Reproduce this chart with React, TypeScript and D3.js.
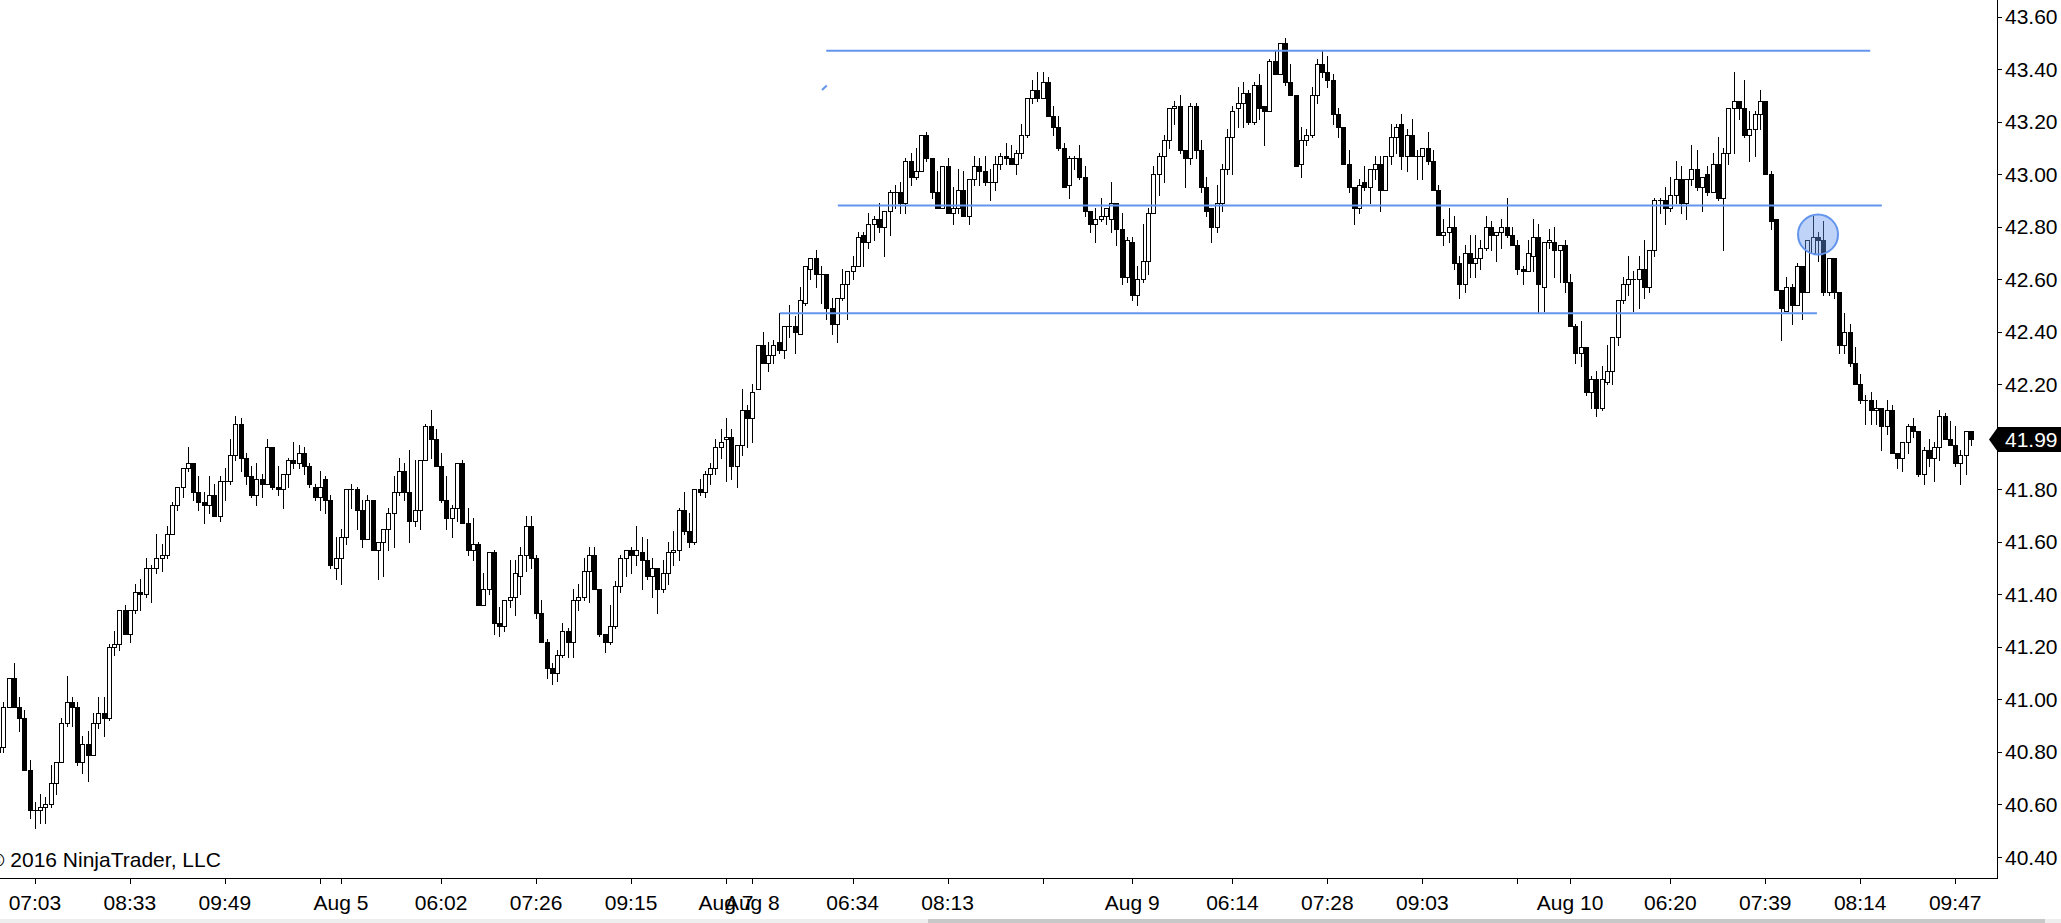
import React, { useEffect } from 'react';
import * as d3 from 'd3';

// ─── bar data (one entry per candle, oldest first) ─────────────────────────────
const opens = [
  40.80, 40.82, 40.97, 41.08, 40.97, 40.93, 40.73, 40.58, 40.58, 40.59,
  40.60, 40.68, 40.76, 40.91, 40.99, 40.97, 40.76, 40.83, 40.79, 40.91,
  40.95, 40.93, 41.20, 41.21, 41.34, 41.25, 41.34, 41.41, 41.40, 41.50,
  41.50, 41.54, 41.55, 41.63, 41.74, 41.81, 41.88, 41.90, 41.79, 41.75,
  41.74, 41.78, 41.70, 41.83, 41.83, 41.93, 42.05, 41.92, 41.85, 41.78,
  41.84, 41.82, 41.96, 41.81, 41.80, 41.86, 41.91, 41.90, 41.94, 41.89,
  41.81, 41.77, 41.84, 41.76, 41.50, 41.54, 41.62, 41.80, 41.80, 41.72,
  41.61, 41.76, 41.57, 41.60, 41.65, 41.71, 41.79, 41.87, 41.79, 41.68,
  41.72, 41.91, 42.04, 41.99, 41.89, 41.76, 41.69, 41.73, 41.90, 41.67,
  41.57, 41.59, 41.36, 41.42, 41.56, 41.29, 41.28, 41.38, 41.39, 41.47,
  41.55, 41.66, 41.54, 41.33, 41.22, 41.12, 41.10, 41.17, 41.26, 41.22,
  41.38, 41.39, 41.49, 41.55, 41.42, 41.25, 41.22, 41.28, 41.43, 41.54,
  41.57, 41.55, 41.56, 41.53, 41.47, 41.50, 41.42, 41.48, 41.56, 41.57,
  41.72, 41.64, 41.60, 41.80, 41.79, 41.86, 41.88, 41.96, 41.99, 42.00,
  41.89, 41.97, 42.10, 42.07, 42.18, 42.35, 42.28, 42.31, 42.36, 42.33,
  42.42, 42.42, 42.39, 42.51, 42.64, 42.68, 42.62, 42.62, 42.49, 42.43,
  42.53, 42.58, 42.63, 42.65, 42.77, 42.74, 42.81, 42.83, 42.80, 42.86,
  42.93, 42.93, 42.89, 43.05, 42.99, 43.01, 43.15, 43.06, 42.93, 42.87,
  43.03, 42.85, 42.87, 42.94, 42.84, 42.98, 43.03, 43.01, 42.97, 42.97,
  43.04, 43.07, 43.06, 43.04, 43.08, 43.15, 43.29, 43.32, 43.29, 43.35,
  43.22, 43.18, 43.10, 42.96, 43.06, 43.06, 42.99, 42.86, 42.81, 42.83,
  42.84, 42.83, 42.89, 42.79, 42.61, 42.74, 42.54, 42.60, 42.67, 42.85,
  43.00, 43.07, 43.13, 43.25, 43.26, 43.09, 43.06, 43.26, 43.09, 42.95,
  42.87, 42.80, 42.89, 43.02, 43.14, 43.25, 43.27, 43.31, 43.20, 43.34,
  43.26, 43.24, 43.43, 43.38, 43.50, 43.35, 43.30, 43.04, 43.13, 43.15,
  43.30, 43.42, 43.39, 43.36, 43.23, 43.18, 43.04, 42.95, 42.87, 42.97,
  42.95, 43.02, 43.04, 42.94, 43.07, 43.14, 43.19, 43.07, 43.15, 43.07,
  43.07, 43.10, 43.05, 42.94, 42.77, 42.78, 42.80, 42.66, 42.58, 42.70,
  42.66, 42.68, 42.72, 42.80, 42.77, 42.78, 42.80, 42.77, 42.73, 42.64,
  42.63, 42.69, 42.76, 42.57, 42.74, 42.74, 42.71, 42.73, 42.59, 42.42,
  42.32, 42.34, 42.17, 42.22, 42.11, 42.21, 42.25, 42.38, 42.52, 42.58,
  42.60, 42.60, 42.64, 42.57, 42.71, 42.90, 42.90, 42.87, 42.92, 42.98,
  42.89, 42.98, 43.02, 42.95, 43.00, 42.93, 43.04, 42.91, 43.08, 43.25,
  43.28, 43.25, 43.15, 43.17, 43.23, 43.28, 43.00, 42.83, 42.56, 42.48,
  42.57, 42.50, 42.65, 42.55, 42.70, 42.76, 42.75, 42.55, 42.68, 42.55,
  42.35, 42.40, 42.28, 42.20, 42.14, 42.14, 42.10, 42.11, 42.04, 42.10,
  41.94, 41.92, 41.98, 42.04, 42.02, 41.86, 41.95, 41.92, 41.96, 42.08,
  41.99, 41.97, 41.90, 41.93, 42.02,
];

const highs = [
  40.84, 40.99, 41.08, 41.14, 41.01, 40.96, 40.77, 40.61, 40.64, 40.63,
  40.75, 40.76, 40.93, 41.09, 41.01, 40.99, 40.86, 40.88, 40.95, 41.01,
  41.01, 41.21, 41.26, 41.34, 41.36, 41.34, 41.44, 41.46, 41.54, 41.51,
  41.63, 41.59, 41.66, 41.75, 41.81, 41.88, 41.96, 41.90, 41.85, 41.79,
  41.85, 41.82, 41.85, 41.88, 41.99, 42.08, 42.07, 41.94, 41.89, 41.90,
  41.86, 41.99, 41.96, 41.89, 41.86, 41.92, 41.98, 41.97, 41.96, 41.90,
  41.82, 41.87, 41.85, 41.78, 41.62, 41.65, 41.80, 41.82, 41.81, 41.76,
  41.78, 41.76, 41.60, 41.65, 41.73, 41.85, 41.92, 41.90, 41.95, 41.91,
  41.91, 42.05, 42.10, 42.03, 41.94, 41.85, 41.74, 41.90, 41.91, 41.73,
  41.69, 41.60, 41.48, 41.56, 41.57, 41.35, 41.38, 41.53, 41.53, 41.58,
  41.70, 41.70, 41.55, 41.38, 41.23, 41.14, 41.19, 41.29, 41.27, 41.42,
  41.44, 41.54, 41.58, 41.58, 41.42, 41.25, 41.36, 41.45, 41.55, 41.57,
  41.58, 41.66, 41.62, 41.61, 41.54, 41.50, 41.53, 41.60, 41.64, 41.73,
  41.79, 41.71, 41.80, 41.84, 41.87, 41.90, 41.99, 42.03, 42.07, 42.03,
  41.97, 42.18, 42.12, 42.20, 42.35, 42.40, 42.36, 42.37, 42.47, 42.42,
  42.50, 42.46, 42.57, 42.65, 42.68, 42.71, 42.65, 42.62, 42.53, 42.53,
  42.64, 42.63, 42.69, 42.78, 42.78, 42.85, 42.84, 42.89, 42.86, 42.94,
  42.96, 42.97, 43.06, 43.08, 43.10, 43.15, 43.16, 43.06, 43.01, 43.03,
  43.06, 42.95, 43.02, 43.01, 42.98, 43.07, 43.06, 43.07, 43.02, 43.07,
  43.08, 43.12, 43.11, 43.09, 43.19, 43.29, 43.36, 43.39, 43.39, 43.37,
  43.26, 43.22, 43.12, 43.07, 43.07, 43.11, 43.03, 42.86, 42.87, 42.91,
  42.87, 42.97, 42.89, 42.85, 42.76, 42.76, 42.65, 42.81, 42.87, 43.03,
  43.08, 43.15, 43.25, 43.28, 43.30, 43.09, 43.27, 43.27, 43.13, 42.99,
  42.87, 42.96, 43.04, 43.17, 43.26, 43.33, 43.35, 43.32, 43.35, 43.38,
  43.26, 43.44, 43.47, 43.50, 43.52, 43.42, 43.30, 43.18, 43.17, 43.33,
  43.44, 43.47, 43.45, 43.38, 43.25, 43.18, 43.09, 42.95, 42.98, 43.03,
  43.02, 43.07, 43.07, 43.07, 43.19, 43.19, 43.23, 43.17, 43.21, 43.09,
  43.10, 43.16, 43.09, 42.96, 42.83, 42.87, 42.84, 42.69, 42.73, 42.77,
  42.77, 42.75, 42.84, 42.82, 42.78, 42.83, 42.91, 42.80, 42.75, 42.65,
  42.75, 42.83, 42.81, 42.74, 42.79, 42.80, 42.73, 42.75, 42.62, 42.43,
  42.44, 42.34, 42.23, 42.25, 42.27, 42.35, 42.38, 42.52, 42.61, 42.69,
  42.63, 42.69, 42.75, 42.71, 42.91, 42.91, 42.95, 42.99, 43.05, 43.03,
  42.98, 43.11, 43.09, 42.99, 43.03, 43.08, 43.14, 43.10, 43.25, 43.39,
  43.28, 43.36, 43.24, 43.24, 43.32, 43.28, 43.01, 42.83, 42.56, 42.61,
  42.58, 42.66, 42.65, 42.75, 42.84, 42.78, 42.82, 42.68, 42.68, 42.55,
  42.47, 42.43, 42.34, 42.24, 42.16, 42.17, 42.14, 42.11, 42.14, 42.12,
  41.94, 41.98, 42.05, 42.07, 42.02, 41.96, 41.99, 41.98, 42.10, 42.09,
  42.06, 42.04, 41.95, 42.02, 42.02,
];

const lows = [
  40.72, 40.80, 40.97, 40.97, 40.88, 40.73, 40.55, 40.51, 40.53, 40.53,
  40.59, 40.64, 40.76, 40.90, 40.90, 40.75, 40.72, 40.69, 40.79, 40.89,
  40.86, 40.92, 41.17, 41.19, 41.25, 41.22, 41.33, 41.34, 41.39, 41.37,
  41.48, 41.49, 41.54, 41.63, 41.72, 41.77, 41.87, 41.76, 41.72, 41.67,
  41.71, 41.70, 41.68, 41.76, 41.82, 41.91, 41.87, 41.82, 41.77, 41.74,
  41.77, 41.82, 41.80, 41.78, 41.73, 41.81, 41.88, 41.88, 41.86, 41.81,
  41.76, 41.72, 41.71, 41.50, 41.46, 41.44, 41.59, 41.73, 41.65, 41.58,
  41.61, 41.57, 41.46, 41.47, 41.57, 41.58, 41.78, 41.76, 41.60, 41.66,
  41.65, 41.91, 41.92, 41.89, 41.75, 41.65, 41.62, 41.68, 41.67, 41.55,
  41.53, 41.36, 41.36, 41.40, 41.25, 41.24, 41.26, 41.35, 41.32, 41.40,
  41.49, 41.50, 41.31, 41.22, 41.08, 41.06, 41.07, 41.16, 41.16, 41.16,
  41.34, 41.38, 41.37, 41.42, 41.24, 41.18, 41.21, 41.27, 41.41, 41.47,
  41.48, 41.51, 41.42, 41.46, 41.39, 41.33, 41.41, 41.44, 41.51, 41.53,
  41.63, 41.58, 41.59, 41.78, 41.77, 41.82, 41.86, 41.92, 41.83, 41.84,
  41.81, 41.93, 41.96, 41.98, 42.18, 42.28, 42.25, 42.28, 42.32, 42.30,
  42.38, 42.32, 42.39, 42.50, 42.60, 42.57, 42.51, 42.45, 42.39, 42.36,
  42.52, 42.45, 42.60, 42.65, 42.65, 42.72, 42.75, 42.78, 42.69, 42.77,
  42.87, 42.85, 42.85, 42.96, 42.98, 43.01, 43.05, 42.91, 42.87, 42.87,
  42.85, 42.81, 42.85, 42.84, 42.81, 42.96, 42.96, 42.96, 42.90, 42.94,
  43.02, 43.04, 43.04, 43.00, 43.06, 43.14, 43.27, 43.28, 43.29, 43.22,
  43.15, 43.09, 42.95, 42.91, 43.02, 42.98, 42.84, 42.78, 42.74, 42.82,
  42.81, 42.78, 42.73, 42.58, 42.59, 42.52, 42.50, 42.59, 42.62, 42.85,
  42.92, 42.97, 43.10, 43.19, 43.08, 42.95, 43.04, 43.06, 42.93, 42.84,
  42.74, 42.78, 42.86, 43.00, 43.00, 43.18, 43.18, 43.19, 43.19, 43.21,
  43.11, 43.24, 43.38, 43.38, 43.34, 43.30, 43.03, 42.99, 43.11, 43.14,
  43.27, 43.37, 43.33, 43.19, 43.14, 43.04, 42.93, 42.81, 42.85, 42.94,
  42.89, 42.98, 42.86, 42.94, 43.04, 43.08, 43.02, 43.01, 43.07, 42.98,
  42.98, 43.04, 42.94, 42.77, 42.73, 42.74, 42.64, 42.53, 42.55, 42.61,
  42.61, 42.64, 42.71, 42.71, 42.67, 42.72, 42.76, 42.73, 42.62, 42.58,
  42.63, 42.63, 42.47, 42.48, 42.72, 42.61, 42.59, 42.55, 42.42, 42.28,
  42.27, 42.16, 42.11, 42.08, 42.10, 42.20, 42.20, 42.35, 42.51, 42.54,
  42.48, 42.49, 42.53, 42.55, 42.69, 42.85, 42.81, 42.86, 42.89, 42.85,
  42.83, 42.96, 42.94, 42.86, 42.92, 42.93, 42.90, 42.71, 43.04, 43.08,
  43.21, 43.14, 43.05, 43.07, 43.17, 43.00, 42.79, 42.56, 42.37, 42.48,
  42.43, 42.50, 42.45, 42.55, 42.70, 42.67, 42.54, 42.54, 42.53, 42.32,
  42.32, 42.27, 42.20, 42.13, 42.05, 42.05, 42.05, 41.95, 42.01, 41.94,
  41.88, 41.87, 41.94, 42.00, 41.85, 41.82, 41.89, 41.83, 41.91, 41.99,
  41.97, 41.89, 41.82, 41.86, 41.97,
];

const closes = [
  40.82, 40.97, 41.08, 40.97, 40.93, 40.73, 40.58, 40.58, 40.59, 40.60,
  40.68, 40.76, 40.91, 40.99, 40.97, 40.76, 40.83, 40.79, 40.91, 40.95,
  40.93, 41.20, 41.21, 41.34, 41.25, 41.34, 41.41, 41.40, 41.50, 41.50,
  41.54, 41.55, 41.63, 41.74, 41.81, 41.88, 41.90, 41.79, 41.75, 41.74,
  41.78, 41.70, 41.83, 41.83, 41.93, 42.05, 41.92, 41.85, 41.78, 41.84,
  41.82, 41.96, 41.81, 41.80, 41.86, 41.91, 41.90, 41.94, 41.89, 41.82,
  41.77, 41.81, 41.76, 41.51, 41.54, 41.62, 41.80, 41.80, 41.72, 41.61,
  41.76, 41.57, 41.60, 41.65, 41.71, 41.79, 41.87, 41.79, 41.68, 41.72,
  41.91, 42.04, 41.99, 41.89, 41.76, 41.69, 41.73, 41.90, 41.67, 41.57,
  41.59, 41.36, 41.42, 41.56, 41.29, 41.28, 41.38, 41.39, 41.48, 41.55,
  41.66, 41.54, 41.33, 41.22, 41.12, 41.10, 41.17, 41.26, 41.22, 41.38,
  41.39, 41.49, 41.55, 41.42, 41.25, 41.22, 41.28, 41.43, 41.54, 41.57,
  41.55, 41.57, 41.53, 41.47, 41.50, 41.42, 41.48, 41.56, 41.57, 41.72,
  41.64, 41.60, 41.80, 41.79, 41.86, 41.88, 41.96, 41.98, 42.00, 41.89,
  41.97, 42.10, 42.07, 42.17, 42.35, 42.28, 42.31, 42.35, 42.33, 42.42,
  42.42, 42.40, 42.52, 42.65, 42.68, 42.62, 42.62, 42.49, 42.43, 42.53,
  42.58, 42.63, 42.65, 42.76, 42.74, 42.81, 42.83, 42.80, 42.86, 42.93,
  42.93, 42.89, 43.05, 42.99, 43.01, 43.15, 43.06, 42.93, 42.87, 43.03,
  42.85, 42.87, 42.94, 42.84, 42.98, 43.03, 43.01, 42.97, 42.97, 43.04,
  43.07, 43.06, 43.04, 43.08, 43.15, 43.29, 43.32, 43.29, 43.35, 43.22,
  43.18, 43.10, 42.95, 43.06, 43.06, 42.99, 42.86, 42.81, 42.83, 42.84,
  42.87, 42.89, 42.79, 42.61, 42.75, 42.54, 42.60, 42.67, 42.85, 43.00,
  43.07, 43.13, 43.25, 43.26, 43.09, 43.06, 43.26, 43.09, 42.95, 42.86,
  42.80, 42.89, 43.02, 43.14, 43.24, 43.27, 43.31, 43.20, 43.34, 43.25,
  43.24, 43.43, 43.38, 43.50, 43.35, 43.30, 43.03, 43.13, 43.15, 43.30,
  43.42, 43.39, 43.36, 43.23, 43.18, 43.04, 42.95, 42.87, 42.96, 42.95,
  43.02, 43.04, 42.94, 43.07, 43.14, 43.18, 43.07, 43.15, 43.07, 43.07,
  43.10, 43.05, 42.94, 42.77, 42.78, 42.80, 42.66, 42.58, 42.70, 42.66,
  42.68, 42.72, 42.80, 42.77, 42.78, 42.80, 42.77, 42.73, 42.64, 42.63,
  42.70, 42.76, 42.58, 42.74, 42.75, 42.71, 42.73, 42.59, 42.42, 42.32,
  42.34, 42.17, 42.22, 42.11, 42.22, 42.25, 42.38, 42.52, 42.58, 42.60,
  42.60, 42.64, 42.57, 42.71, 42.90, 42.90, 42.87, 42.92, 42.98, 42.89,
  42.98, 43.02, 42.95, 42.99, 42.93, 43.04, 42.91, 43.08, 43.25, 43.28,
  43.25, 43.15, 43.17, 43.23, 43.28, 43.00, 42.82, 42.56, 42.49, 42.57,
  42.50, 42.65, 42.55, 42.75, 42.76, 42.75, 42.55, 42.68, 42.55, 42.35,
  42.40, 42.28, 42.20, 42.14, 42.14, 42.10, 42.11, 42.04, 42.10, 41.94,
  41.92, 41.98, 42.04, 42.02, 41.86, 41.95, 41.92, 41.96, 42.08, 41.99,
  41.97, 41.90, 41.93, 42.02, 41.99,
];

// ─── axes ──────────────────────────────────────────────────────────────────────
const priceTicks = [
  40.4, 40.6, 40.8, 41.0, 41.2, 41.4, 41.6, 41.8, 42.0,
  42.2, 42.4, 42.6, 42.8, 43.0, 43.2, 43.4, 43.6,
];
const timeTickBars = [
  7, 25, 43, 61, 65, 84, 102, 120, 138, 143, 162, 180,
  198, 215, 234, 252, 270, 288, 298, 317, 335, 353, 371,
];
const timeTickLabels = [
  '07:03', '08:33', '09:49', '', 'Aug 5', '06:02', '07:26', '09:15', 'Aug 7', 'Aug 8', '06:34', '08:13',
  '', 'Aug 9', '06:14', '07:28', '09:03', '', 'Aug 10', '06:20', '07:39', '08:14', '09:47',
];

// ─── drawing objects (horizontal levels, marker, stray stroke) ────────────────
const levelPrices = [43.47, 42.88, 42.47];
const levelStartBars = [157.0, 159.2, 148.2];
const levelEndBars = [354.9, 357.1, 344.8];
const markerBar = 345;
const markerPrice = 42.77;
const strokeBars = [156.2, 157.1];
const strokePrices = [43.32, 43.337];

const FONT = "'Liberation Sans', Arial, sans-serif";
const FONT_SIZE = 21;
const BLUE = '#6495ED';

export default function App() {
  useEffect(() => {
    document.body.style.margin = '0';
    document.body.style.overflow = 'hidden';
  }, []);

  const width = 2061;
  const height = 923;
  const axisX = 1997;
  const axisY = 878;

  const x = d3.scaleLinear().domain([0, closes.length - 1]).range([-2, 1971]);
  const y = d3.scaleLinear().domain([40.4, 43.6]).range([857, 16.5]);

  const last = closes[closes.length - 1];
  const ly = Math.round(y(last)) + 0.5;

  return (
    <svg
      width={width}
      height={height}
      style={{ position: 'absolute', left: 0, top: 0, background: '#fff' }}
      fontFamily={FONT}
    >
      <rect width={width} height={height} fill="#fff" />

      {/* candles */}
      <g shapeRendering="crispEdges">
        {closes.map((c, i) => {
          const o = opens[i];
          const px = Math.round(x(i));
          const top = Math.round(y(Math.max(o, c))) + 0.5;
          const bot = Math.round(y(Math.min(o, c))) + 0.5;
          const up = c >= o;
          return (
            <g key={i}>
              <line
                x1={px + 0.5}
                x2={px + 0.5}
                y1={Math.round(y(highs[i]))}
                y2={Math.round(y(lows[i])) + 1}
                stroke="#000"
                strokeWidth={1}
              />
              {bot - top >= 1 ? (
                <rect
                  x={px - 1.5}
                  y={top}
                  width={4}
                  height={bot - top}
                  fill={up ? '#fff' : '#000'}
                  stroke="#000"
                  strokeWidth={1}
                />
              ) : (
                <line x1={px - 2} x2={px + 3} y1={top} y2={top} stroke="#000" strokeWidth={1} />
              )}
            </g>
          );
        })}
      </g>

      {/* horizontal levels */}
      {levelPrices.map((p, i) => (
        <line
          key={i}
          x1={x(levelStartBars[i])}
          x2={x(levelEndBars[i])}
          y1={y(p)}
          y2={y(p)}
          stroke={BLUE}
          strokeWidth={2}
        />
      ))}
      <line
        x1={x(strokeBars[0])}
        y1={y(strokePrices[0])}
        x2={x(strokeBars[1])}
        y2={y(strokePrices[1])}
        stroke={BLUE}
        strokeWidth={2}
      />
      <circle
        cx={x(markerBar)}
        cy={y(markerPrice)}
        r={20}
        fill={BLUE}
        fillOpacity={0.42}
        stroke={BLUE}
        strokeWidth={2}
      />

      {/* axes */}
      <g shapeRendering="crispEdges" stroke="#000" strokeWidth={1}>
        <line x1={axisX + 0.5} x2={axisX + 0.5} y1={0} y2={axisY + 1} />
        <line x1={0} x2={axisX + 1} y1={axisY + 0.5} y2={axisY + 0.5} />
        {priceTicks.map(t => (
          <line key={t} x1={axisX} x2={axisX + 5} y1={Math.round(y(t)) + 0.5} y2={Math.round(y(t)) + 0.5} />
        ))}
        {timeTickBars.map(b => (
          <line key={b} x1={Math.round(x(b)) + 0.5} x2={Math.round(x(b)) + 0.5} y1={axisY} y2={axisY + 6} />
        ))}
      </g>

      {priceTicks.map(t => (
        <text key={t} x={2005} y={y(t)} dy="0.36em" fontSize={FONT_SIZE} fill="#000">
          {t.toFixed(2)}
        </text>
      ))}
      {timeTickBars.map((b, i) =>
        timeTickLabels[i] ? (
          <text key={b} x={x(b)} y={910} textAnchor="middle" fontSize={FONT_SIZE} fill="#000">
            {timeTickLabels[i]}
          </text>
        ) : null
      )}

      {/* last price marker */}
      <polygon
        points={`${axisX - 8},${ly} ${axisX + 1},${ly - 12.5} ${width},${ly - 12.5} ${width},${ly + 12.5} ${axisX + 1},${ly + 12.5}`}
        fill="#000"
      />
      <text x={2005} y={ly} dy="0.36em" fontSize={FONT_SIZE} fill="#fff">
        {last.toFixed(2)}
      </text>

      <text x={-11} y={867} fontSize={FONT_SIZE} fill="#000">
        © 2016 NinjaTrader, LLC
      </text>

      {/* scroll bar strip */}
      <rect x={0} y={919} width={width} height={4} fill="#eeeeee" />
      <rect x={928} y={919} width={1117} height={4} fill="#c8c8c8" />
    </svg>
  );
}
